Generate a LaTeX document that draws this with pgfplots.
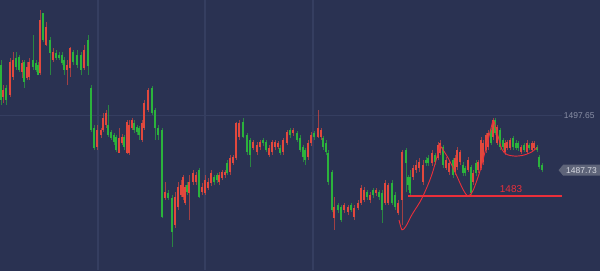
\documentclass[border=0pt]{standalone}
\usepackage{fontspec}
\setmainfont{Liberation Sans}
\usepackage{pgfplots}
\usepackage{pgfplotstable}
\pgfplotsset{compat=1.18}
\usetikzlibrary{shapes.symbols}
\definecolor{bg}{HTML}{2A3252}
\definecolor{gridc}{HTML}{353E60}
\definecolor{upc}{HTML}{E2483D}
\definecolor{dnc}{HTML}{2BB33C}
\definecolor{markc}{HTML}{EA2F3A}
\definecolor{tagc}{HTML}{5E6479}
\definecolor{tagtxt}{HTML}{D8DAE2}
\definecolor{lblc}{HTML}{8A90A6}

% up candles (red): x open high low close
\pgfplotstableread{
x open high low close
3 1501.1 1503.3 1500.0 1502.4
10 1501.5 1508.3 1501.1 1507.5
13 1504.8 1509.4 1504.2 1507.9
22 1505.7 1507.9 1504.6 1507.4
27 1504.6 1507.5 1504.2 1506.6
29 1504.8 1508.3 1504.2 1507.5
40 1505.5 1517.1 1505.2 1515.2
46 1510.7 1514.9 1510.5 1514.0
53 1507.9 1510.1 1507.5 1509.4
67 1506.1 1507.9 1503.3 1507.0
70 1506.4 1510.3 1504.8 1510.1
84 1506.4 1510.7 1506.1 1509.7
97 1492.0 1496.0 1491.4 1495.1
101 1494.2 1495.5 1493.6 1495.1
103 1495.1 1498.2 1494.7 1497.3
106 1496.0 1498.8 1495.5 1498.2
119 1490.9 1495.5 1490.9 1493.6
122 1492.7 1494.4 1492.3 1493.8
127 1490.9 1496.9 1490.7 1496.6
129 1490.9 1496.9 1490.5 1496.0
132 1495.5 1497.3 1495.1 1496.9
142 1493.3 1496.9 1492.9 1496.4
144 1495.5 1500.6 1495.1 1500.0
148 1498.8 1502.8 1498.4 1502.4
165 1482.6 1485.6 1482.3 1483.7
175 1477.7 1483.7 1477.1 1482.8
178 1481.0 1485.6 1480.4 1484.7
181 1483.2 1485.9 1482.8 1485.0
183 1482.8 1486.9 1482.3 1486.5
185 1481.7 1485.0 1481.4 1484.7
189 1483.6 1486.9 1478.6 1485.6
193 1485.6 1487.8 1485.0 1487.2
196 1485.6 1487.4 1485.0 1486.9
202 1483.7 1485.4 1483.2 1484.7
205 1483.6 1486.9 1483.2 1485.9
208 1484.5 1486.3 1484.1 1485.6
211 1485.4 1487.8 1484.8 1487.2
219 1485.6 1487.4 1485.0 1486.9
222 1486.3 1487.8 1485.9 1487.4
225 1486.9 1487.8 1486.3 1487.4
230 1487.4 1490.5 1486.9 1490.0
233 1489.0 1490.5 1488.7 1490.2
236 1490.0 1496.6 1489.6 1496.4
239 1493.8 1496.9 1493.3 1496.4
253 1491.8 1493.3 1491.4 1492.9
257 1491.1 1492.9 1490.5 1492.3
260 1492.0 1493.3 1491.4 1492.9
269 1490.5 1492.3 1490.2 1491.8
272 1491.1 1493.3 1490.5 1492.9
275 1492.0 1493.3 1491.4 1492.9
278 1492.0 1493.1 1491.6 1492.7
283 1491.1 1493.6 1490.5 1493.3
287 1492.7 1495.1 1492.3 1494.7
293 1494.5 1495.5 1494.0 1495.1
308 1490.1 1493.3 1489.6 1492.7
311 1492.7 1494.7 1492.2 1494.2
318 1493.8 1498.8 1493.6 1495.5
321 1493.8 1495.5 1493.3 1495.1
334 1479.0 1482.8 1476.8 1481.0
344 1480.4 1481.7 1479.9 1481.4
348 1480.1 1481.4 1479.5 1481.0
354 1479.2 1481.4 1478.6 1480.8
358 1480.8 1482.3 1480.4 1481.7
361 1481.7 1485.0 1481.4 1484.5
364 1482.3 1484.7 1481.9 1484.1
370 1482.3 1483.7 1481.7 1483.2
376 1483.6 1484.5 1483.0 1484.1
385 1481.7 1485.9 1481.4 1485.4
388 1481.7 1485.4 1481.4 1485.0
398 1479.9 1482.3 1479.5 1481.7
402 1482.3 1491.4 1477.7 1491.1
413 1486.5 1488.7 1485.9 1488.1
416 1487.8 1489.6 1487.2 1488.7
419 1488.1 1490.0 1487.4 1489.2
423 1485.6 1489.6 1485.0 1488.7
432 1489.0 1491.4 1488.5 1490.9
438 1490.0 1492.9 1489.6 1492.3
440 1490.9 1493.3 1490.5 1492.7
446 1488.1 1490.1 1487.8 1489.6
449 1487.4 1489.6 1486.9 1489.0
455 1487.4 1490.5 1486.9 1490.0
457 1488.3 1492.0 1487.8 1491.4
460 1489.2 1491.4 1488.7 1491.1
468 1487.8 1490.1 1487.4 1489.6
473 1485.6 1487.8 1485.0 1487.2
478 1487.8 1489.6 1487.2 1489.2
481 1488.1 1493.8 1487.8 1493.3
483 1489.2 1493.3 1488.7 1492.7
486 1491.4 1494.5 1490.9 1494.2
488 1492.0 1495.1 1491.4 1494.5
493 1493.8 1497.3 1493.3 1496.9
497 1492.7 1496.0 1492.3 1495.6
505 1491.1 1493.3 1490.5 1492.7
507 1491.8 1493.3 1491.4 1492.9
510 1491.8 1493.6 1491.4 1493.3
521 1491.1 1492.3 1490.7 1492.0
527 1491.1 1493.3 1490.7 1492.7
532 1491.4 1493.1 1491.1 1492.7
534 1491.8 1493.1 1491.4 1492.7
}\upT

% down candles (green): x open high low close
\pgfplotstableread{
x open high low close
1 1507.0 1507.9 1499.7 1500.6
6 1502.8 1503.3 1499.7 1500.6
16 1508.3 1509.4 1506.1 1506.6
19 1508.5 1508.8 1505.7 1506.1
24 1507.5 1507.9 1502.8 1503.9
33 1507.9 1512.5 1506.1 1506.6
36 1507.4 1507.9 1505.7 1506.1
38 1507.0 1507.5 1505.2 1505.2
43 1516.5 1516.5 1511.2 1511.6
50 1511.6 1512.1 1505.2 1509.2
56 1509.2 1509.7 1507.9 1508.3
59 1508.8 1509.4 1507.9 1508.3
62 1508.8 1509.4 1507.0 1507.4
64 1507.9 1508.5 1505.2 1506.1
73 1509.4 1509.7 1507.0 1507.5
77 1508.8 1509.7 1506.4 1507.0
81 1508.8 1509.4 1505.2 1506.1
88 1511.6 1512.5 1505.2 1506.8
91 1502.8 1503.3 1494.7 1495.1
94 1495.5 1496.0 1491.4 1491.8
108 1496.0 1499.7 1493.8 1494.2
111 1494.7 1495.1 1493.3 1493.6
114 1494.2 1494.5 1492.3 1492.9
116 1493.8 1494.2 1491.1 1491.4
124 1493.8 1494.2 1491.4 1492.0
134 1496.4 1496.9 1494.5 1495.1
137 1495.6 1496.0 1494.2 1494.7
139 1495.5 1495.8 1493.3 1494.2
152 1502.8 1503.1 1497.8 1498.2
155 1498.8 1499.1 1493.3 1495.5
158 1495.5 1496.0 1493.3 1494.2
162 1495.1 1495.5 1479.0 1479.2
168 1483.6 1484.1 1482.3 1482.6
172 1482.6 1483.2 1473.7 1476.4
187 1485.0 1485.6 1483.2 1483.7
199 1487.8 1488.1 1482.6 1482.8
214 1486.5 1486.9 1485.0 1485.6
217 1486.9 1487.2 1485.4 1485.9
227 1489.0 1489.6 1486.9 1487.2
243 1496.6 1497.3 1493.6 1493.8
247 1494.2 1494.5 1490.5 1491.1
250 1493.3 1493.6 1488.3 1490.5
263 1493.3 1493.6 1492.2 1492.7
266 1492.9 1493.3 1491.1 1491.4
280 1491.8 1492.3 1490.5 1490.9
290 1495.1 1495.5 1493.6 1494.2
297 1494.5 1494.9 1492.9 1493.3
300 1493.6 1494.2 1491.1 1491.4
303 1492.0 1492.3 1489.2 1490.1
305 1491.4 1491.8 1488.7 1489.6
314 1494.5 1494.9 1493.3 1493.8
323 1493.6 1494.0 1491.4 1492.0
326 1492.7 1493.3 1490.5 1491.1
328 1490.9 1491.4 1485.0 1485.6
332 1487.4 1487.8 1480.1 1480.4
338 1481.4 1481.7 1479.9 1480.4
341 1481.0 1481.4 1478.2 1478.6
351 1481.4 1481.7 1480.1 1480.4
367 1483.7 1484.1 1482.3 1482.8
373 1484.1 1484.5 1482.6 1483.2
379 1483.7 1484.1 1482.3 1482.8
382 1483.6 1484.1 1478.1 1480.4
392 1485.4 1485.9 1481.4 1481.7
395 1483.2 1483.7 1480.4 1481.0
406 1491.4 1491.8 1483.7 1489.0
408 1486.5 1486.9 1484.1 1485.0
410 1486.5 1487.8 1483.0 1483.6
426 1489.6 1490.1 1488.5 1489.0
428 1490.0 1490.5 1488.5 1489.0
435 1490.5 1490.9 1488.7 1489.2
443 1492.0 1492.3 1488.1 1488.7
453 1489.6 1490.0 1486.3 1486.9
463 1488.7 1489.2 1486.7 1487.2
465 1488.1 1488.5 1486.7 1487.2
471 1488.3 1488.7 1483.0 1483.6
476 1489.0 1489.6 1486.7 1487.2
491 1495.1 1495.5 1492.3 1492.7
495 1496.9 1497.3 1494.2 1494.5
500 1495.1 1495.5 1491.4 1492.0
503 1493.3 1493.6 1491.4 1492.0
513 1493.6 1494.0 1491.4 1492.0
516 1492.7 1493.3 1491.4 1491.8
518 1492.7 1493.1 1491.2 1491.8
524 1492.3 1492.7 1491.1 1491.4
529 1492.3 1492.7 1491.4 1491.8
537 1492.0 1492.3 1491.1 1491.4
539 1490.1 1490.5 1487.9 1488.3
542 1488.7 1489.0 1487.4 1487.7
}\dnT

\pgfplotsset{
  wick/.style={draw=none, mark=none, error bars/.cd, y dir=plus, y explicit,
    error mark=none, error bar style={line width=1bp, draw=#1, draw opacity=0.65}},
  body/.style={draw=none, mark=none, error bars/.cd, y dir=plus, y explicit,
    error mark=none, error bar style={line width=2.3bp, draw=#1}},
}

\begin{document}
\begin{tikzpicture}
\begin{axis}[
  scale only axis, width=600bp, height=270bp,
  xmin=0, xmax=600, ymin=1469.45, ymax=1518.89,
  axis background/.style={fill=bg, draw=bg, line width=4bp},
  axis line style={draw=none},
  xtick=\empty, ytick=\empty,
  clip=false,
]
\coordinate (sw) at (rel axis cs:0,0);
\coordinate (ne) at (rel axis cs:1,1);
% grid lines
\addplot[gridc, line width=1.2bp] coordinates {(98,1469.45) (98,1518.89)};
\addplot[gridc, line width=1.2bp] coordinates {(205,1469.45) (205,1518.89)};
\addplot[gridc, line width=1.2bp] coordinates {(313,1469.45) (313,1518.89)};
\addplot[gridc, line width=1bp] coordinates {(0,1497.65) (562,1497.65)};

% candles
\addplot[wick=upc] table[x=x, y=low, y error plus expr=\thisrow{high}-\thisrow{low}] {\upT};
\addplot[wick=dnc] table[x=x, y=low, y error plus expr=\thisrow{high}-\thisrow{low}] {\dnT};
\addplot[body=upc] table[x=x, y=open, y error plus expr=\thisrow{close}-\thisrow{open}] {\upT};
\addplot[body=dnc] table[x=x, y=close, y error plus expr=\thisrow{open}-\thisrow{close}] {\dnT};

% annotations
\addplot[markc, line width=1.5bp] coordinates {(408,1483.0) (562,1483.0)};
\addplot[markc, line width=0.9bp, smooth, tension=0.5] coordinates {
 (399,1478.6) (402,1476.8) (406,1477.5) (412,1479.6) (422,1482.6) (432,1487.0) (440,1492.3)};
\addplot[markc, line width=0.9bp, smooth, tension=0.5] coordinates {
 (440,1492.3) (448,1490.0) (456,1487.0) (463,1484.2) (468,1483.0) (473,1484.0) (480,1487.6) (487,1492.5) (493,1496.9)};
\addplot[markc, line width=0.9bp, smooth, tension=0.5] coordinates {
 (494,1496.7) (498,1494.0) (502,1491.5) (507,1490.6) (515,1490.3) (524,1490.5) (532,1491.1) (537,1491.9)};

\node[text=markc, font=\fontsize{10}{12}\selectfont] at (axis cs:511,1484.2) {1483};
\node[text=lblc, font=\fontsize{8.5}{10}\selectfont, anchor=east] at (axis cs:598,1497.65) {1497.65};
\node[signal, signal to=west, signal pointer angle=100, fill=tagc, text=tagtxt,
  font=\fontsize{8.5}{10}\selectfont, inner xsep=3bp, inner ysep=2.5bp, anchor=east]
  at (axis cs:600,1487.73) {1487.73};
\end{axis}
\pgfresetboundingbox
\useasboundingbox (sw) rectangle (ne);
\end{tikzpicture}
\end{document}
